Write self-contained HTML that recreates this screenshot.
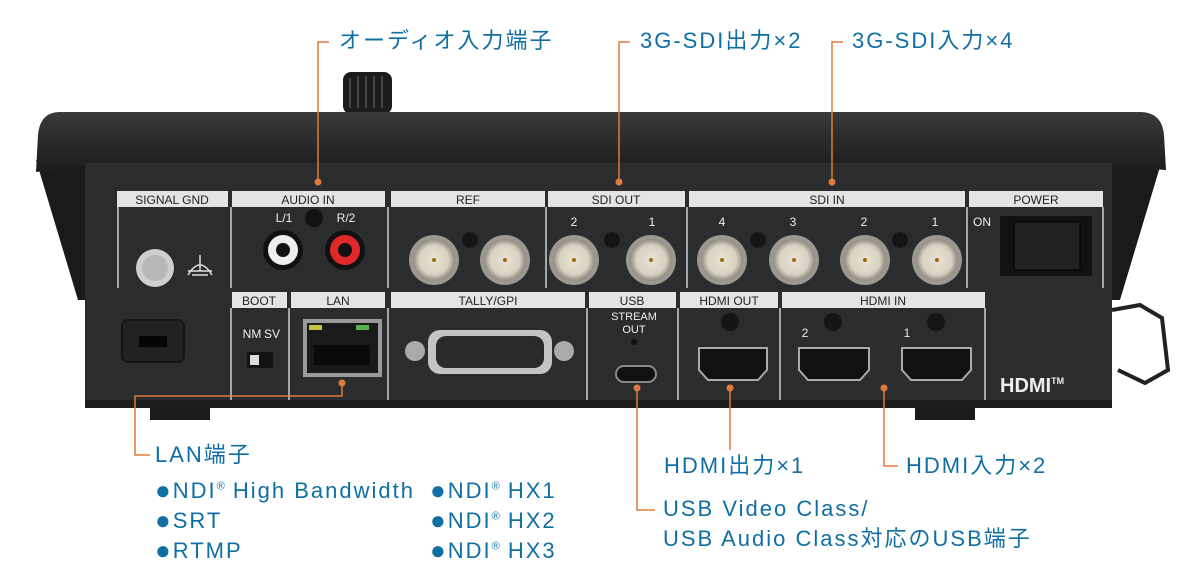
<!DOCTYPE html>
<html><head><meta charset="utf-8"><style>
html,body{margin:0;padding:0;background:#fff;width:1200px;height:584px;overflow:hidden}
.t{position:absolute;color:#0f6ea3;font-family:"Liberation Sans","Noto Sans CJK JP",sans-serif;font-size:22px;white-space:nowrap;line-height:1;letter-spacing:2px}
.b{font-size:26px;letter-spacing:0;margin-right:2px;position:relative;top:1px}
sup{font-size:11px;letter-spacing:0}
</style></head><body>
<svg width="1200" height="584" style="position:absolute;left:0;top:0" xmlns="http://www.w3.org/2000/svg" font-family="Liberation Sans, sans-serif">
<defs>
<linearGradient id="bar" x1="0" y1="0" x2="0" y2="1"><stop offset="0" stop-color="#3a3a3a"/><stop offset="0.5" stop-color="#2a2a2a"/><stop offset="1" stop-color="#1c1c1c"/></linearGradient>
<radialGradient id="bnc"><stop offset="0" stop-color="#e9e3d6"/><stop offset="0.7" stop-color="#d9d2c2"/><stop offset="1" stop-color="#8f8a80"/></radialGradient>
</defs>
<rect x="343" y="72" width="49" height="42" rx="8" fill="#1c1c1c"/>
<g stroke="#444" stroke-width="2"><line x1="350" y1="78" x2="350" y2="108"/><line x1="358" y1="76" x2="358" y2="108"/><line x1="366" y1="76" x2="366" y2="108"/><line x1="374" y1="76" x2="374" y2="108"/><line x1="382" y1="76" x2="382" y2="108"/></g>
<path d="M36 160 L85 165 L85 300 L78 300 Z" fill="#1a1a1a"/>
<path d="M1162 160 L1112 165 L1112 300 L1120 300 Z" fill="#1a1a1a"/>
<path d="M60 112 L1140 112 Q1162 112 1164 135 L1166 170 L1110 166 L85 166 L36 172 L38 135 Q40 112 60 112 Z" fill="url(#bar)"/>
<rect x="85" y="163" width="1027" height="245" fill="#2b2c2e"/>
<rect x="85" y="400" width="1027" height="8" fill="#1e1e1e"/>
<rect x="150" y="408" width="60" height="12" fill="#1a1a1a"/>
<rect x="915" y="408" width="60" height="12" fill="#1a1a1a"/>
<g fill="#e4e4e4">
<rect x="117" y="191" width="111" height="16"/><rect x="232" y="191" width="153" height="16"/>
<rect x="391" y="191" width="154" height="16"/><rect x="548" y="191" width="137" height="16"/>
<rect x="689" y="191" width="276" height="16"/><rect x="969" y="191" width="134" height="16"/>
<rect x="232" y="292" width="55" height="16"/><rect x="291" y="292" width="94" height="16"/>
<rect x="391" y="292" width="194" height="16"/><rect x="589" y="292" width="87" height="16"/>
<rect x="680" y="292" width="98" height="16"/><rect x="782" y="292" width="203" height="16"/>
</g>
<g stroke="#d0d0d0" stroke-width="1.5">
<line x1="118" y1="207" x2="118" y2="288"/><line x1="231" y1="207" x2="231" y2="288"/><line x1="388" y1="207" x2="388" y2="288"/>
<line x1="546" y1="207" x2="546" y2="288"/><line x1="687" y1="207" x2="687" y2="288"/><line x1="967" y1="207" x2="967" y2="288"/><line x1="1103" y1="207" x2="1103" y2="288"/>
<line x1="231" y1="308" x2="231" y2="400"/><line x1="289" y1="308" x2="289" y2="400"/><line x1="388" y1="308" x2="388" y2="400"/>
<line x1="587" y1="308" x2="587" y2="400"/><line x1="678" y1="308" x2="678" y2="400"/><line x1="780" y1="308" x2="780" y2="400"/><line x1="985" y1="308" x2="985" y2="400"/>
</g>
<g font-size="12" fill="#222" text-anchor="middle">
<text x="172" y="204">SIGNAL GND</text><text x="308" y="204">AUDIO IN</text><text x="468" y="204">REF</text>
<text x="616" y="204">SDI OUT</text><text x="827" y="204">SDI IN</text><text x="1036" y="204">POWER</text>
<text x="259" y="305">BOOT</text><text x="338" y="305">LAN</text><text x="488" y="305">TALLY/GPI</text>
<text x="632" y="305">USB</text><text x="729" y="305">HDMI OUT</text><text x="883" y="305">HDMI IN</text>
</g>
<g font-size="12" fill="#eee" text-anchor="middle">
<text x="284" y="222">L/1</text><text x="346" y="222">R/2</text>
<text x="574" y="226">2</text><text x="652" y="226">1</text>
<text x="722" y="226">4</text><text x="793" y="226">3</text><text x="864" y="226">2</text><text x="935" y="226">1</text>
<text x="982" y="226">ON</text>
<text x="252" y="338">NM</text><text x="272" y="338">SV</text>
<text x="634" y="320" font-size="11">STREAM</text><text x="634" y="333" font-size="11">OUT</text>
<text x="805" y="337">2</text><text x="907" y="337">1</text>
</g>
<circle cx="155" cy="268" r="19" fill="#cfcfcf"/><circle cx="155" cy="268" r="13" fill="#b8b8b8"/>
<g stroke="#ddd" stroke-width="1.5" fill="none"><path d="M188 275 Q200 255 212 275"/><line x1="200" y1="255" x2="200" y2="271"/><line x1="188" y1="271" x2="212" y2="271"/><line x1="192" y1="275" x2="208" y2="275"/></g>
<circle cx="283" cy="250" r="20" fill="#111"/><circle cx="283" cy="250" r="15" fill="#eee"/><circle cx="283" cy="250" r="7" fill="#111"/>
<circle cx="345" cy="250" r="20" fill="#111"/><circle cx="345" cy="250" r="15" fill="#e0282a"/><circle cx="345" cy="250" r="7" fill="#111"/>
<circle cx="314" cy="218" r="9" fill="#111"/>
<g>
<circle cx="434" cy="260" r="25" fill="#9c988f"/><circle cx="434" cy="260" r="21" fill="url(#bnc)"/><circle cx="434" cy="260" r="2" fill="#a06a10"/>
<circle cx="505" cy="260" r="25" fill="#9c988f"/><circle cx="505" cy="260" r="21" fill="url(#bnc)"/><circle cx="505" cy="260" r="2" fill="#a06a10"/>
<circle cx="574" cy="260" r="25" fill="#9c988f"/><circle cx="574" cy="260" r="21" fill="url(#bnc)"/><circle cx="574" cy="260" r="2" fill="#a06a10"/>
<circle cx="651" cy="260" r="25" fill="#9c988f"/><circle cx="651" cy="260" r="21" fill="url(#bnc)"/><circle cx="651" cy="260" r="2" fill="#a06a10"/>
<circle cx="722" cy="260" r="25" fill="#9c988f"/><circle cx="722" cy="260" r="21" fill="url(#bnc)"/><circle cx="722" cy="260" r="2" fill="#a06a10"/>
<circle cx="794" cy="260" r="25" fill="#9c988f"/><circle cx="794" cy="260" r="21" fill="url(#bnc)"/><circle cx="794" cy="260" r="2" fill="#a06a10"/>
<circle cx="865" cy="260" r="25" fill="#9c988f"/><circle cx="865" cy="260" r="21" fill="url(#bnc)"/><circle cx="865" cy="260" r="2" fill="#a06a10"/>
<circle cx="937" cy="260" r="25" fill="#9c988f"/><circle cx="937" cy="260" r="21" fill="url(#bnc)"/><circle cx="937" cy="260" r="2" fill="#a06a10"/>
</g>
<g fill="#151515"><circle cx="470" cy="240" r="8"/><circle cx="612" cy="240" r="8"/><circle cx="758" cy="240" r="8"/><circle cx="900" cy="240" r="8"/>
<circle cx="730" cy="322" r="9"/><circle cx="833" cy="322" r="9"/><circle cx="936" cy="322" r="9"/></g>
<rect x="1000" y="216" width="92" height="60" fill="#111"/><rect x="1014" y="222" width="66" height="48" fill="#222" stroke="#000"/>
<rect x="122" y="320" width="62" height="42" rx="6" fill="#222" stroke="#151515" stroke-width="2"/><rect x="139" y="336" width="28" height="11" fill="#050505"/>
<rect x="247" y="352" width="26" height="16" fill="#111"/><rect x="250" y="355" width="9" height="10" fill="#ddd"/>
<rect x="303" y="319" width="79" height="58" fill="#9a9a9a"/><rect x="307" y="323" width="71" height="50" fill="#1a1a1a"/>
<rect x="309" y="325" width="13" height="5" fill="#c8c040"/><rect x="356" y="325" width="13" height="5" fill="#58b050"/>
<rect x="314" y="345" width="56" height="20" fill="#0a0a0a"/>
<circle cx="415" cy="351" r="10" fill="#aaa"/><circle cx="564" cy="351" r="10" fill="#aaa"/>
<rect x="428" y="330" width="124" height="44" rx="12" fill="#c4c4c4"/><rect x="436" y="336" width="108" height="32" rx="10" fill="#2a2a2a"/>
<rect x="616" y="366" width="40" height="16" rx="8" fill="#111" stroke="#888" stroke-width="2"/>
<circle cx="634" cy="342" r="3" fill="#111"/>
<g fill="#111" stroke="#aaa" stroke-width="2">
<path d="M699 348 L767 348 L767 370 L758 380 L708 380 L699 370 Z"/>
<path d="M799 348 L869 348 L869 370 L860 380 L808 380 L799 370 Z"/>
<path d="M902 348 L971 348 L971 370 L962 380 L911 380 L902 370 Z"/>
</g>
<text x="1000" y="392" font-size="20" font-weight="bold" fill="#eee">HDMI<tspan font-size="9" dy="-8">TM</tspan></text>
<path d="M1112 310 L1140 305 L1162 318 L1168 370 L1145 383 L1118 370" fill="none" stroke="#222" stroke-width="4"/>
<g stroke="#e07a3c" stroke-width="1.5" fill="none">
<polyline points="329,42 318,42 318,182"/>
<polyline points="630,42 619,42 619,182"/>
<polyline points="843,42 832,42 832,182"/>
<polyline points="342,383 342,396 135,396 135,455 150,455"/>
<polyline points="637,388 637,510 655,510"/>
<line x1="730" y1="388" x2="730" y2="450"/>
<polyline points="884,388 884,466 898,466"/>
</g>
<g fill="#e07a3c"><circle cx="318" cy="182" r="3.5"/><circle cx="619" cy="182" r="3.5"/><circle cx="832" cy="182" r="3.5"/>
<circle cx="342" cy="383" r="3.5"/><circle cx="637" cy="388" r="3.5"/><circle cx="730" cy="388" r="3.5"/><circle cx="884" cy="388" r="3.5"/></g>
</svg>
<div class="t" style="left:339px;top:30px">オーディオ入力端子</div>
<div class="t" style="left:640px;top:30px">3G-SDI出力×2</div>
<div class="t" style="left:852px;top:30px">3G-SDI入力×4</div>
<div class="t" style="left:155px;top:444px">LAN端子</div>
<div class="t" style="left:155px;top:476px"><span class="b">●</span>NDI<sup>®</sup> High Bandwidth</div>
<div class="t" style="left:155px;top:506px"><span class="b">●</span>SRT</div>
<div class="t" style="left:155px;top:536px"><span class="b">●</span>RTMP</div>
<div class="t" style="left:430px;top:476px"><span class="b">●</span>NDI<sup>®</sup> HX1</div>
<div class="t" style="left:430px;top:506px"><span class="b">●</span>NDI<sup>®</sup> HX2</div>
<div class="t" style="left:430px;top:536px"><span class="b">●</span>NDI<sup>®</sup> HX3</div>
<div class="t" style="left:664px;top:455px">HDMI出力×1</div>
<div class="t" style="left:906px;top:455px">HDMI入力×2</div>
<div class="t" style="left:663px;top:498px">USB Video Class/</div>
<div class="t" style="left:663px;top:528px">USB Audio Class対応のUSB端子</div>
</body></html>
